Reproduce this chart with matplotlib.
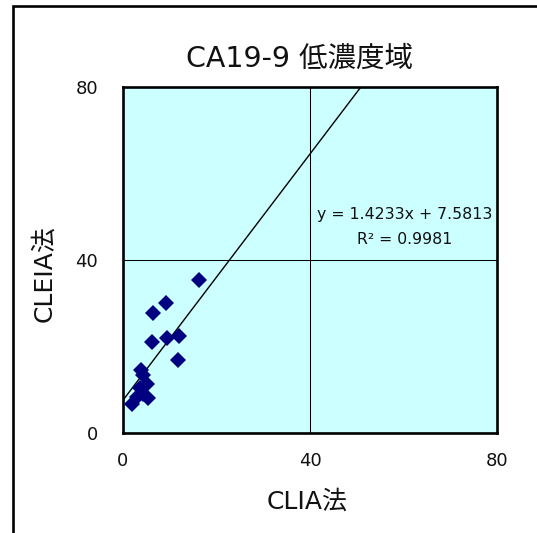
import matplotlib
matplotlib.use("Agg")
import matplotlib.pyplot as plt
from matplotlib.patches import Rectangle
import numpy as np

plt.rcParams["font.family"] = ["DejaVu Sans", "Noto Sans CJK JP"]

# CLIA vs CLEIA, low concentration range
clia = [16.3, 9.2, 6.5, 6.3, 9.5, 12.0, 11.8, 3.8, 4.3, 5.1, 3.6, 5.4, 1.9, 2.9, 4.3]
cleia = [35.3, 30.0, 27.8, 21.1, 21.9, 22.4, 16.9, 14.5, 13.4, 11.3, 10.3, 8.2, 6.8, 8.4, 9.1]

slope = 1.4233
intercept = 7.5813
r2 = 0.9981

ticks = [0, 40, 80]

W, H = 537, 533
fig = plt.figure(figsize=(W / 100, H / 100), dpi=100)
fig.patch.set_facecolor("white")

ax = fig.add_axes([123 / W, 100 / H, 374 / W, 346 / H])
ax.set_facecolor("#CCFFFF")
ax.set_xlim(0, 80)
ax.set_ylim(0, 80)
ax.set_xticks(ticks)
ax.set_yticks(ticks)
ax.tick_params(length=0, labelsize=13, colors="#111111")
ax.tick_params(axis="y", pad=18)
ax.tick_params(axis="x", pad=14)
for s in ax.spines.values():
    s.set_linewidth(1.9)
    s.set_color("black")
ax.grid(True, color="black", lw=0.75)
ax.set_axisbelow(True)

# linear trendline, extended across the plot area
xs = np.array([0, 80])
ax.plot(xs, slope * xs + intercept, color="black", lw=1.0, zorder=3)

ax.plot(clia, cleia, linestyle="none", marker="D", markersize=8.6,
        markerfacecolor="#000080", markeredgewidth=0, zorder=4)

fig.text(405 / W, 1 - 215 / H, f"y = {slope}x + {intercept}",
         ha="center", va="center", fontsize=11.3, color="#111111")
fig.text(405 / W, 1 - 239 / H, f"R² = {r2}",
         ha="center", va="center", fontsize=11.3, color="#111111")

fig.text(300 / W, 1 - 59 / H, "CA19-9 低濃度域", ha="center", va="center",
         fontsize=20.5, color="#111111")
fig.text(307 / W, 1 - 502 / H, "CLIA法", ha="center", va="center",
         fontsize=18, color="#111111")
fig.text(44 / W, 1 - 274 / H, "CLEIA法", ha="center", va="center",
         rotation=90, fontsize=18, color="#111111")

# outer chart frame (runs off the right and bottom edges)
fig.patches.append(Rectangle((13 / W, -0.1), 1.2, 1.1 - 6.5 / H,
                             transform=fig.transFigure, fill=False,
                             edgecolor="black", lw=1.9))

fig.savefig("out.png", dpi=100, facecolor="white")
